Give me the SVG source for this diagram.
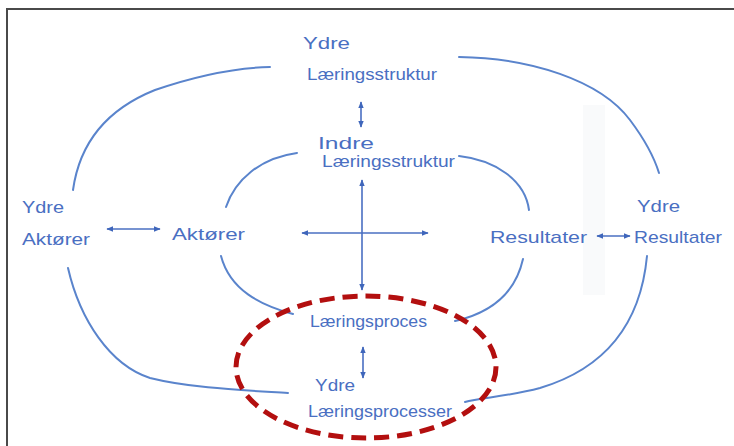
<svg xmlns="http://www.w3.org/2000/svg" width="734" height="446" viewBox="0 0 734 446">
  <defs>
    <style>
      .lbl { font-family: "Liberation Sans", "DejaVu Sans", sans-serif; font-size: 17px; fill: #4a6fc2; }
      .curve { fill: none; stroke: #5a84cc; stroke-width: 2; stroke-linecap: round; }
      .arr { fill: none; stroke: #4a6fc2; stroke-width: 1.6; marker-start: url(#head); marker-end: url(#head); }
      .frame { stroke: #4a4a4a; stroke-width: 2; fill: none; }
    </style>
    <marker id="head" viewBox="0 0 10 10" refX="9" refY="5" markerWidth="7" markerHeight="7" orient="auto-start-reverse" markerUnits="userSpaceOnUse">
      <path d="M0,1 L10,5 L0,9 Z" fill="#3f66bb"/>
    </marker>
  </defs>
  <rect width="734" height="446" fill="#ffffff"/>
  <rect x="583" y="105" width="22" height="190" fill="#f9fafb"/>
  <path class="frame" d="M7,446 L7,9 L734,9"/>

  <g id="connectors">
    <path class="curve" d="M73,190 C80,140 110,108 155,90 C190,78 230,68 270,67"/>
    <path class="curve" d="M226,207 C235,180 260,158 297,153"/>
    <path class="curve" d="M459,57 C530,58 600,80 630,120 C645,140 655,160 659,173"/>
    <path class="curve" d="M459,156 C495,160 525,180 529,210"/>
    <path class="curve" d="M68,268 C80,320 110,365 150,378 C190,388 240,390 288,393"/>
    <path class="curve" d="M221,256 C230,290 260,305 293,314"/>
    <path class="curve" d="M523,259 C515,295 490,313 455,321"/>
    <path class="curve" d="M647,256 C640,330 600,370 540,388 C510,396 480,398 465,402"/>
    <line class="arr" x1="361" y1="102" x2="361" y2="127"/>
    <line class="arr" x1="362" y1="180" x2="362" y2="290"/>
    <line class="arr" x1="302" y1="233" x2="428" y2="233"/>
    <line class="arr" x1="107" y1="229" x2="160" y2="229"/>
    <line class="arr" x1="597" y1="236" x2="630" y2="236"/>
    <line class="arr" x1="363" y1="347" x2="363" y2="378"/>
  </g>

  <g id="ydre-laeringsstruktur">
    <text class="lbl" x="303" y="49" textLength="47" lengthAdjust="spacingAndGlyphs">Ydre</text>
    <text class="lbl" x="307" y="80" textLength="130" lengthAdjust="spacingAndGlyphs">Læringsstruktur</text>
  </g>
  <g id="indre-laeringsstruktur">
    <text class="lbl" x="318" y="149" textLength="56" lengthAdjust="spacingAndGlyphs">Indre</text>
    <text class="lbl" x="322" y="167" textLength="133" lengthAdjust="spacingAndGlyphs">Læringsstruktur</text>
  </g>
  <g id="ydre-aktorer">
    <text class="lbl" x="22" y="213" textLength="42" lengthAdjust="spacingAndGlyphs">Ydre</text>
    <text class="lbl" x="22" y="245" textLength="68" lengthAdjust="spacingAndGlyphs">Aktører</text>
  </g>
  <g id="aktorer">
    <text class="lbl" x="172" y="240" textLength="73" lengthAdjust="spacingAndGlyphs">Aktører</text>
  </g>
  <g id="resultater">
    <text class="lbl" x="490" y="243" textLength="97" lengthAdjust="spacingAndGlyphs">Resultater</text>
  </g>
  <g id="ydre-resultater">
    <text class="lbl" x="637" y="212" textLength="43" lengthAdjust="spacingAndGlyphs">Ydre</text>
    <text class="lbl" x="634" y="243" textLength="88" lengthAdjust="spacingAndGlyphs">Resultater</text>
  </g>
  <g id="laeringsproces">
    <text class="lbl" x="310" y="327" textLength="117" lengthAdjust="spacingAndGlyphs">Læringsproces</text>
  </g>
  <g id="ydre-laeringsprocesser">
    <text class="lbl" x="315" y="391" textLength="40" lengthAdjust="spacingAndGlyphs">Ydre</text>
    <text class="lbl" x="308" y="417" textLength="144" lengthAdjust="spacingAndGlyphs">Læringsprocesser</text>
  </g>

  <ellipse id="highlight" cx="366" cy="367" rx="130" ry="71" fill="none" stroke="#b30f0f" stroke-width="5" stroke-dasharray="15 8"/>
</svg>
